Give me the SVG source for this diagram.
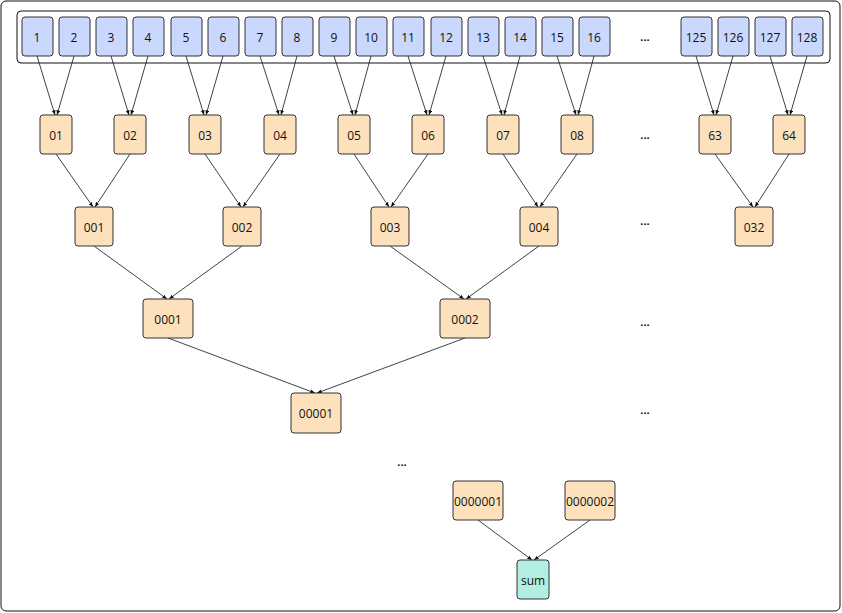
<svg xmlns="http://www.w3.org/2000/svg" width="842" height="613" viewBox="0 0 842 613">
<style>
text{font-family:"Open Sans","DejaVu Sans",sans-serif;font-size:12px;text-anchor:middle;dominant-baseline:central;fill:#111}
.b rect{fill:#c9d8fc;stroke:#333;stroke-width:1}
.o rect{fill:#fde1bd;stroke:#333;stroke-width:1}
.s rect{fill:#b3eee2;stroke:#333;stroke-width:1}
#edges line{stroke:#111;stroke-width:0.8;marker-end:url(#a)}
.d{font-weight:bold;font-size:11px}
</style>
<defs><marker id="a" viewBox="0 0 10 10" refX="10" refY="5" markerWidth="6" markerHeight="6" orient="auto"><path d="M0,1L10,5L0,9z" fill="#111"/></marker></defs>
<rect x="1" y="1" width="839" height="610" rx="5" fill="#fff" stroke="#111"/>
<rect x="17" y="11" width="813" height="52" rx="4" fill="#fff" stroke="#111"/>
<g id="edges">
<line x1="37" y1="56" x2="55" y2="115"/><line x1="74" y1="56" x2="57" y2="115"/>
<line x1="111" y1="56" x2="129" y2="115"/><line x1="148" y1="56" x2="131" y2="115"/>
<line x1="186" y1="56" x2="204" y2="115"/><line x1="223" y1="56" x2="206" y2="115"/>
<line x1="260" y1="56" x2="279" y2="115"/><line x1="297" y1="56" x2="281" y2="115"/>
<line x1="334" y1="56" x2="353" y2="115"/><line x1="371" y1="56" x2="355" y2="115"/>
<line x1="408" y1="56" x2="427" y2="115"/><line x1="446" y1="56" x2="429" y2="115"/>
<line x1="483" y1="56" x2="502" y2="115"/><line x1="520" y1="56" x2="504" y2="115"/>
<line x1="557" y1="56" x2="576" y2="115"/><line x1="594" y1="56" x2="578" y2="115"/>
<line x1="696" y1="56" x2="714" y2="115"/><line x1="733" y1="56" x2="716" y2="115"/>
<line x1="770" y1="56" x2="788" y2="115"/><line x1="807" y1="56" x2="790" y2="115"/>
<line x1="56" y1="154" x2="93" y2="207"/><line x1="130" y1="154" x2="95" y2="207"/>
<line x1="205" y1="154" x2="241" y2="207"/><line x1="280" y1="154" x2="243" y2="207"/>
<line x1="354" y1="154" x2="389" y2="207"/><line x1="428" y1="154" x2="391" y2="207"/>
<line x1="503" y1="154" x2="538" y2="207"/><line x1="577" y1="154" x2="540" y2="207"/>
<line x1="715" y1="154" x2="753" y2="207"/><line x1="789" y1="154" x2="755" y2="207"/>
<line x1="94" y1="246" x2="167" y2="299"/><line x1="242" y1="246" x2="169" y2="299"/>
<line x1="390" y1="246" x2="464" y2="299"/><line x1="539" y1="246" x2="466" y2="299"/>
<line x1="168" y1="338" x2="315" y2="393"/><line x1="465" y1="338" x2="317" y2="393"/>
<line x1="478" y1="520" x2="532" y2="560"/><line x1="590" y1="520" x2="534" y2="560"/>
</g>
<g class="b">
<g id="n1"><rect x="22" y="17" width="31" height="39" rx="3"/><text x="37" y="37">1</text></g>
<g id="n2"><rect x="59" y="17" width="31" height="39" rx="3"/><text x="74" y="37">2</text></g>
<g id="n3"><rect x="96" y="17" width="31" height="39" rx="3"/><text x="111" y="37">3</text></g>
<g id="n4"><rect x="133" y="17" width="31" height="39" rx="3"/><text x="148" y="37">4</text></g>
<g id="n5"><rect x="171" y="17" width="31" height="39" rx="3"/><text x="186" y="37">5</text></g>
<g id="n6"><rect x="208" y="17" width="31" height="39" rx="3"/><text x="223" y="37">6</text></g>
<g id="n7"><rect x="245" y="17" width="31" height="39" rx="3"/><text x="260" y="37">7</text></g>
<g id="n8"><rect x="282" y="17" width="31" height="39" rx="3"/><text x="297" y="37">8</text></g>
<g id="n9"><rect x="319" y="17" width="31" height="39" rx="3"/><text x="334" y="37">9</text></g>
<g id="n10"><rect x="356" y="17" width="31" height="39" rx="3"/><text x="371" y="37">10</text></g>
<g id="n11"><rect x="393" y="17" width="31" height="39" rx="3"/><text x="408" y="37">11</text></g>
<g id="n12"><rect x="431" y="17" width="31" height="39" rx="3"/><text x="446" y="37">12</text></g>
<g id="n13"><rect x="468" y="17" width="31" height="39" rx="3"/><text x="483" y="37">13</text></g>
<g id="n14"><rect x="505" y="17" width="31" height="39" rx="3"/><text x="520" y="37">14</text></g>
<g id="n15"><rect x="542" y="17" width="31" height="39" rx="3"/><text x="557" y="37">15</text></g>
<g id="n16"><rect x="579" y="17" width="31" height="39" rx="3"/><text x="594" y="37">16</text></g>
<g id="n125"><rect x="681" y="17" width="31" height="39" rx="3"/><text x="696" y="37">125</text></g>
<g id="n126"><rect x="718" y="17" width="31" height="39" rx="3"/><text x="733" y="37">126</text></g>
<g id="n127"><rect x="755" y="17" width="31" height="39" rx="3"/><text x="770" y="37">127</text></g>
<g id="n128"><rect x="792" y="17" width="31" height="39" rx="3"/><text x="807" y="37">128</text></g>
</g>
<g class="o">
<g id="m01"><rect x="40" y="115" width="32" height="39" rx="3"/><text x="56" y="135">01</text></g>
<g id="m02"><rect x="114" y="115" width="32" height="39" rx="3"/><text x="130" y="135">02</text></g>
<g id="m03"><rect x="189" y="115" width="32" height="39" rx="3"/><text x="205" y="135">03</text></g>
<g id="m04"><rect x="264" y="115" width="32" height="39" rx="3"/><text x="280" y="135">04</text></g>
<g id="m05"><rect x="338" y="115" width="32" height="39" rx="3"/><text x="354" y="135">05</text></g>
<g id="m06"><rect x="412" y="115" width="32" height="39" rx="3"/><text x="428" y="135">06</text></g>
<g id="m07"><rect x="487" y="115" width="32" height="39" rx="3"/><text x="503" y="135">07</text></g>
<g id="m08"><rect x="561" y="115" width="32" height="39" rx="3"/><text x="577" y="135">08</text></g>
<g id="m63"><rect x="699" y="115" width="32" height="39" rx="3"/><text x="715" y="135">63</text></g>
<g id="m64"><rect x="773" y="115" width="32" height="39" rx="3"/><text x="789" y="135">64</text></g>
<g id="p001"><rect x="75" y="207" width="38" height="39" rx="3"/><text x="94" y="227">001</text></g>
<g id="p002"><rect x="223" y="207" width="38" height="39" rx="3"/><text x="242" y="227">002</text></g>
<g id="p003"><rect x="371" y="207" width="38" height="39" rx="3"/><text x="390" y="227">003</text></g>
<g id="p004"><rect x="520" y="207" width="38" height="39" rx="3"/><text x="539" y="227">004</text></g>
<g id="p032"><rect x="735" y="207" width="38" height="39" rx="3"/><text x="754" y="227">032</text></g>
<g id="q0001"><rect x="143" y="299" width="50" height="39" rx="3"/><text x="168" y="319">0001</text></g>
<g id="q0002"><rect x="440" y="299" width="50" height="39" rx="3"/><text x="465" y="319">0002</text></g>
<g id="r00001"><rect x="291" y="393" width="50" height="40" rx="3"/><text x="316" y="413">00001</text></g>
<g id="t1"><rect x="453" y="481" width="50" height="39" rx="3"/><text x="478" y="501">0000001</text></g>
<g id="t2"><rect x="565" y="481" width="50" height="39" rx="3"/><text x="590" y="501">0000002</text></g>
</g>
<g class="s" id="sum"><rect x="517" y="560" width="32" height="39" rx="3"/><text x="533" y="580">sum</text></g>
<g id="dots">
<text class="d" x="645" y="36">...</text>
<text class="d" x="645" y="134">...</text>
<text class="d" x="645" y="220">...</text>
<text class="d" x="645" y="321">...</text>
<text class="d" x="645" y="409">...</text>
<text class="d" x="402" y="461">...</text>
</g>
</svg>
